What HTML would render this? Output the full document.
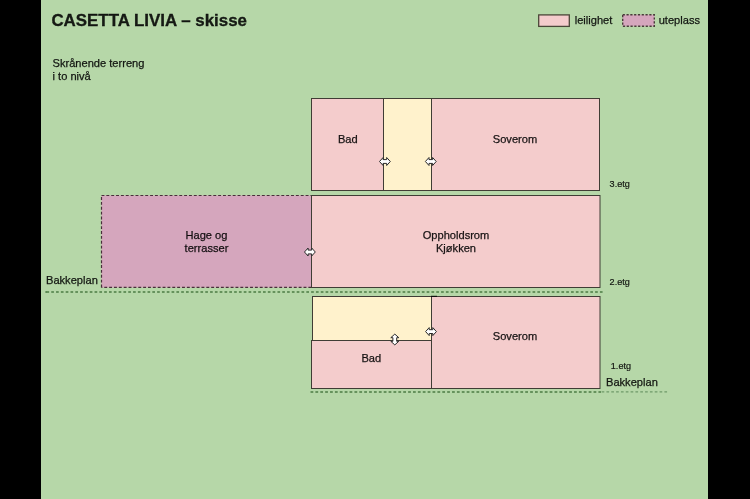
<!DOCTYPE html>
<html lang="no">
<head>
<meta charset="utf-8">
<title>CASETTA LIVIA – skisse</title>
<style>
html,body{margin:0;padding:0;background:#000;}
body{width:750px;height:499px;overflow:hidden;position:relative;}
svg{position:absolute;left:0;top:0;display:block;}
text{font-family:"Liberation Sans",sans-serif;fill:#000;fill-opacity:.88;stroke-opacity:.88;}
.t11{font-size:11.1px;stroke:#000;stroke-width:.25px;}
.t9{font-size:9.1px;stroke:#000;stroke-width:.2px;}
.title{font-size:16.9px;font-weight:bold;fill:#000;stroke:#000;stroke-width:.3px;}
.ln{stroke:#3f3c34;stroke-width:1;fill:none;}
.arrow{fill:#fff;stroke:#2a2a2a;stroke-width:1;stroke-linejoin:miter;}
</style>
</head>
<body>
<svg width="750" height="499" viewBox="0 0 750 499">
  <rect x="0" y="0" width="750" height="499" fill="#000"/>
  <rect x="41" y="0" width="667" height="499" fill="#b6d7a8"/>

  <defs><filter id="soft" x="0" y="0" width="750" height="499" filterUnits="userSpaceOnUse"><feGaussianBlur stdDeviation="0.45"/></filter></defs>
  <g filter="url(#soft)">
  <!-- title -->
  <text class="title" x="51.4" y="25.6">CASETTA LIVIA – skisse</text>

  <!-- legend -->
  <rect x="538.7" y="14.9" width="30.6" height="11.5" class="ln" style="fill:#f4cccc;stroke-width:1.3;stroke:#4a4638"/>
  <text class="t11" x="574.7" y="24.2">leilighet</text>
  <rect x="622.7" y="14.8" width="31.6" height="11.4" style="fill:#d5a6bd;stroke-width:1.4;stroke:#4a3a3a" class="ln" stroke-dasharray="2.2 1.6"/>
  <text class="t11" x="658.7" y="24.2">uteplass</text>

  <!-- note -->
  <text class="t11" x="52.5" y="66.9" style="font-size:11.1px">Skrånende terreng</text>
  <text class="t11" x="52.5" y="79.8" style="font-size:11.1px">i to nivå</text>

  <!-- 3.etg -->
  <rect x="311.5" y="98.5" width="72" height="92" class="ln" style="fill:#f4cccc"/>
  <rect x="383.5" y="98.5" width="48" height="92" class="ln" style="fill:#fff2cc"/>
  <rect x="431.5" y="98.5" width="168" height="92" class="ln" style="fill:#f4cccc"/>
  <text class="t11" x="347.8" y="142.5" text-anchor="middle">Bad</text>
  <text class="t11" x="515" y="142.5" text-anchor="middle">Soverom</text>
  <text class="t9" x="609.6" y="187">3.etg</text>

  <!-- 2.etg -->
  <rect x="101.5" y="195.5" width="210" height="92" fill="#d5a6bd"/>
  <g fill="none" stroke="#4a2f3b" stroke-width="1.2" stroke-dasharray="2.9 1.96">
    <line x1="101.5" y1="195.5" x2="311" y2="195.5"/>
    <line x1="101.5" y1="195.5" x2="101.5" y2="287.5" stroke-dashoffset="3.3"/>
    <line x1="101.5" y1="287.4" x2="311" y2="287.4" stroke-dashoffset="2.1"/>
  </g>
  <rect x="311.5" y="195.5" width="288.5" height="92" class="ln" style="fill:#f4cccc"/>
  <text class="t11" x="206.5" y="238.8" text-anchor="middle">Hage og</text>
  <text class="t11" x="206.5" y="251.6" text-anchor="middle">terrasser</text>
  <text class="t11" x="456" y="238.8" text-anchor="middle">Oppholdsrom</text>
  <text class="t11" x="456" y="251.8" text-anchor="middle">Kjøkken</text>
  <text class="t9" x="609.6" y="284.8">2.etg</text>

  <!-- ground line 1 -->
  <text class="t11" x="46" y="283.8">Bakkeplan</text>
  <line x1="45.3" y1="292" x2="604.6" y2="292" stroke="#4c7c46" stroke-width="1.5" stroke-dasharray="2.7 2.113" stroke-dashoffset="3.7"/>
  <line x1="45.3" y1="292" x2="47" y2="292" stroke="#4c7c46" stroke-width="1.5"/>

  <!-- 1.etg -->
  <rect x="312.5" y="296.5" width="119" height="44" class="ln" style="fill:#fff2cc"/>
  <rect x="311.5" y="340.5" width="120" height="48" class="ln" style="fill:#f4cccc"/>
  <rect x="431.5" y="296.5" width="168.5" height="92" class="ln" style="fill:#f4cccc"/>
  <line x1="431" y1="296.4" x2="437" y2="296.4" stroke="#111" stroke-width="1.2"/>
  <text class="t11" x="371.3" y="361.8" text-anchor="middle">Bad</text>
  <text class="t11" x="515" y="340.2" text-anchor="middle">Soverom</text>
  <text class="t9" x="610.8" y="369.2">1.etg</text>
  <text class="t11" x="606" y="386.4">Bakkeplan</text>
  <line x1="310.5" y1="392" x2="601" y2="392" stroke="#4c7c46" stroke-width="1.5" stroke-dasharray="2.8 2.08" stroke-dashoffset="0"/>
  <line x1="601.6" y1="391.9" x2="667.8" y2="391.9" stroke="#6f9a6a" stroke-width="1.3" stroke-dasharray="2.7 2.13"/>

  <!-- arrows -->
  <g class="arrow">
    <path id="a1" transform="translate(309.9,252)" d="M-5.4,0 L-1.8,-4 L-1.8,-1.9 L1.8,-1.9 L1.8,-4 L5.4,0 L1.8,4 L1.8,1.9 L-1.8,1.9 L-1.8,4 Z"/>
    <path transform="translate(384.9,161.5)" d="M-5.4,0 L-1.8,-4 L-1.8,-1.9 L1.8,-1.9 L1.8,-4 L5.4,0 L1.8,4 L1.8,1.9 L-1.8,1.9 L-1.8,4 Z"/>
    <path transform="translate(430.8,161.5)" d="M-5.4,0 L-1.8,-4 L-1.8,-1.9 L1.8,-1.9 L1.8,-4 L5.4,0 L1.8,4 L1.8,1.9 L-1.8,1.9 L-1.8,4 Z"/>
    <path transform="translate(431,331.6)" d="M-5.4,0 L-1.8,-4 L-1.8,-1.9 L1.8,-1.9 L1.8,-4 L5.4,0 L1.8,4 L1.8,1.9 L-1.8,1.9 L-1.8,4 Z"/>
    <path transform="translate(394.8,339.5) rotate(90)" d="M-5.4,0 L-1.8,-4 L-1.8,-1.9 L1.8,-1.9 L1.8,-4 L5.4,0 L1.8,4 L1.8,1.9 L-1.8,1.9 L-1.8,4 Z"/>
  </g>
  </g>
  <rect x="0" y="0" width="41" height="499" fill="#000"/>
  <rect x="708" y="0" width="42" height="499" fill="#000"/>
</svg>
</body>
</html>
